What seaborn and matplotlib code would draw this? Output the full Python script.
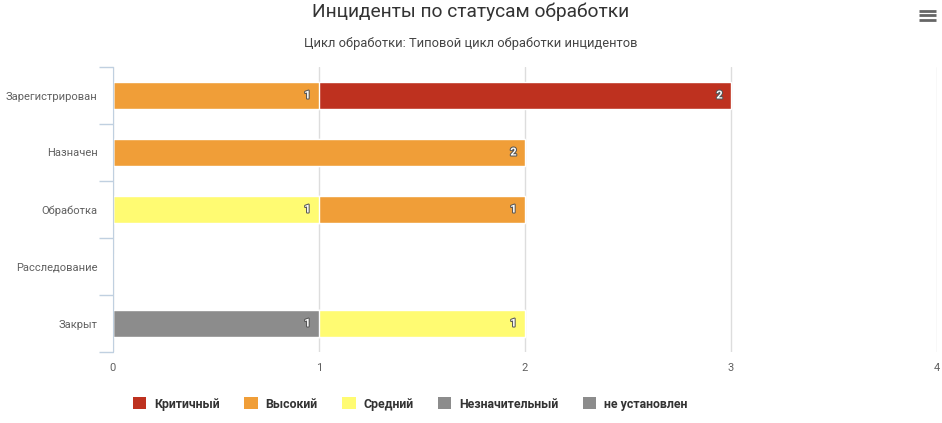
import matplotlib
matplotlib.use("Agg")
import matplotlib.pyplot as plt
import matplotlib.patheffects as pe
from matplotlib.lines import Line2D
from matplotlib.patches import Patch
import seaborn as sns
import pandas as pd
import numpy as np

# data
categories = ["Зарегистрирован", "Назначен", "Обработка", "Расследование", "Закрыт"]
series_names = ["Критичный", "Высокий", "Средний", "Незначительный", "не установлен"]
kritichny = [2, 0, 0, 0, 0]
vysoky = [1, 2, 1, 0, 0]
sredny = [0, 0, 1, 0, 1]
neznachitelny = [0, 0, 0, 0, 1]
ne_ustanovlen = [0, 0, 0, 0, 0]
colors = ["#BE311F", "#F09E38", "#FFFB72", "#8C8C8C", "#8C8C8C"]

sns.set_style("white")
plt.rcParams["font.family"] = ["Roboto", "DejaVu Sans"]

values = [kritichny, vysoky, sredny, neznachitelny, ne_ustanovlen]
# stack from the left: last series sits at the base, first series on top
stack_order = list(range(len(series_names)))[::-1]
cum = np.zeros(len(categories))
cum_by_series = {}
for i in stack_order:
    start = cum.copy()
    cum = cum + np.array(values[i])
    cum_by_series[i] = (start, cum.copy())

fig = plt.figure(figsize=(9.42, 4.23), dpi=100)
ax = fig.add_axes([113 / 942, 1 - 352 / 423, 824 / 942, 285 / 423])

# draw tallest cumulative first, shorter ones overlay
for i in range(len(series_names)):
    start, end = cum_by_series[i]
    df = pd.DataFrame({"status": categories, "total": end})
    sns.barplot(data=df, x="total", y="status", order=categories, orient="h",
                color=colors[i], width=0.47, edgecolor="white", linewidth=1,
                saturation=1, ax=ax)

# data labels
for i in range(len(series_names)):
    start, end = cum_by_series[i]
    for j, v in enumerate(values[i]):
        if v > 0:
            ax.annotate(str(v), xy=(end[j], j), xytext=(-6, 0), textcoords="offset points",
                        ha="right", va="center", color="white", fontsize=8, fontweight="bold",
                        path_effects=[pe.withStroke(linewidth=1.5, foreground="#555555")])

ax.set_xlim(0, 4)
ax.set_ylim(4.5, -0.5)
ax.set_xticks([0, 1, 2, 3, 4])
ax.set_xlabel("")
ax.set_ylabel("")
ax.grid(axis="x", color="#DDDDDD", linewidth=1)
ax.grid(axis="y", visible=False)
ax.set_axisbelow(True)
for s in ["top", "right", "bottom"]:
    ax.spines[s].set_visible(False)
ax.spines["left"].set_color("#C0D0E0")
ax.tick_params(axis="x", length=0, pad=8, labelsize=8, labelcolor="#606060")
ax.tick_params(axis="y", which="major", length=0, pad=11, labelsize=8, labelcolor="#606060")
ax.set_yticks(np.arange(-0.5, 5, 1), minor=True)
ax.tick_params(axis="y", which="minor", left=True, length=10, color="#C0D0E0", width=1)

fig.text(0.5, 1 - 12 / 423, "Инциденты по статусам обработки", ha="center", va="center",
         fontsize=13.8, color="#333333")
fig.text(0.5, 1 - 43 / 423, "Цикл обработки: Типовой цикл обработки инцидентов", ha="center",
         va="center", fontsize=9.3, color="#444444")

handles = [Patch(facecolor=c, edgecolor="none") for c in colors]
leg = fig.legend(handles, series_names, loc="center", bbox_to_anchor=(410 / 942, 1 - 404 / 423),
                 ncol=5, frameon=False, handlelength=1.1, handleheight=1.1, columnspacing=2.0,
                 handletextpad=0.6, prop={"weight": "bold", "size": 8.9})
for t in leg.get_texts():
    t.set_color("#333333")

# export menu icon
for yy in [11, 15.5, 20]:
    fig.add_artist(Line2D([919 / 942, 936 / 942], [1 - yy / 423] * 2, color="#666666", linewidth=2,
                          solid_capstyle="butt"))

fig.savefig("out.png", dpi=100)
plt.close(fig)
